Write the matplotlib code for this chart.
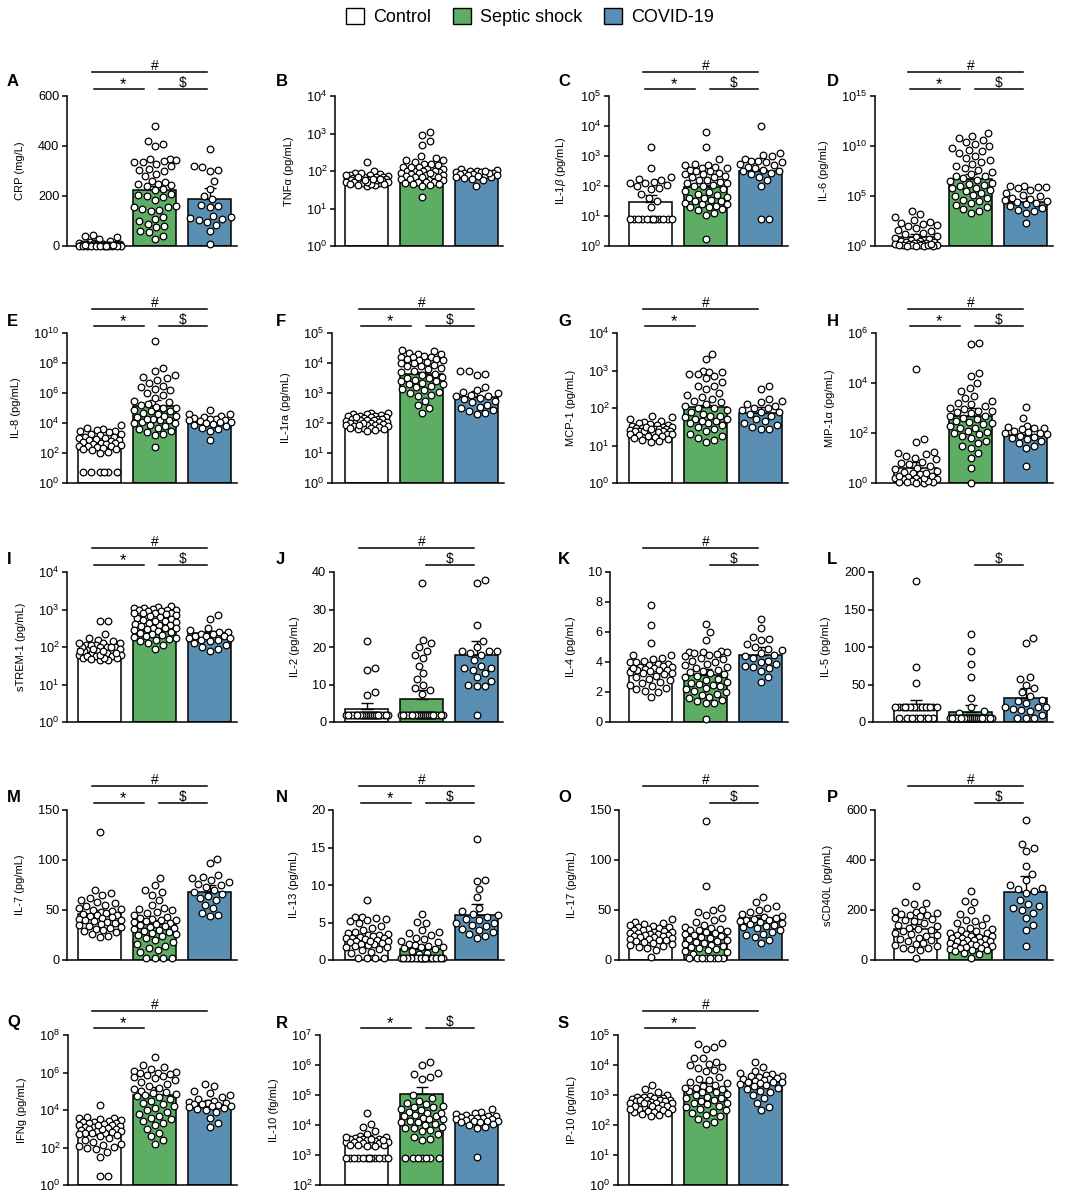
import numpy as np
import matplotlib
matplotlib.use('Agg')
import matplotlib.pyplot as plt
from matplotlib.patches import Patch
from matplotlib.ticker import NullLocator

plt.rcParams['font.family'] = ['Liberation Sans', 'DejaVu Sans']
plt.rcParams['mathtext.fontset'] = 'custom'
plt.rcParams['mathtext.rm'] = 'Liberation Sans'
plt.rcParams['mathtext.it'] = 'Liberation Sans:italic'
plt.rcParams['mathtext.bf'] = 'Liberation Sans:bold'

groups = ['Control', 'Septic shock', 'COVID-19']
colors = ['white', '#5DAD64', '#5A8FB3']

# ---- values (log panels keep log10 values) ----
# A  CRP (mg/L)
crp_ctrl = [45, 40, 35, 28, 20, 15, 14, 12, 10, 10, 9, 8, 8, 7, 6, 6, 5, 5, 5, 4, 4, 4, 3, 3, 3, 3, 2, 2, 2, 2,
            1, 1, 1, 1, 1, 0, 0, 6, 3, 2]
crp_sep = [482, 420, 410, 400, 350, 348, 345, 340, 338, 335, 330, 320, 310, 305, 300, 290, 280, 260, 255, 250,
           248, 245, 240, 230, 225, 210, 205, 200, 195, 185, 160, 158, 155, 150, 145, 140, 115, 110, 100, 90,
           80, 75, 60, 55, 40, 30]
crp_cov = [390, 320, 318, 305, 300, 260, 230, 200, 188, 165, 160, 155, 120, 115, 112, 108, 105, 95, 85, 60, 10]
crp_mean = [7, 226, 187]
crp_top = [10, 240, 233]

# B  TNFa (log10 pg/mL)
tnf_ctrl = [2.25, 2.0, 1.95, 1.92, 1.9, 1.9, 1.88, 1.85, 1.85, 1.82, 1.8, 1.8, 1.8, 1.78, 1.78, 1.75, 1.75, 1.75,
            1.72, 1.72, 1.7, 1.7, 1.7, 1.68, 1.68, 1.65, 1.65, 1.62, 1.62, 1.6, 1.65, 1.7, 1.75, 1.8, 1.85, 1.9,
            1.95, 1.85, 1.8, 1.75]
tnf_sep = [3.05, 2.95, 2.8, 2.7, 2.4, 2.35, 2.3, 2.3, 2.25, 2.2, 2.2, 2.15, 2.1, 2.1, 2.05, 2.05, 2.0, 2.0, 2.0,
           1.98, 1.95, 1.95, 1.92, 1.9, 1.9, 1.88, 1.85, 1.85, 1.8, 1.8, 1.78, 1.75, 1.72, 1.7, 1.7, 1.68, 1.65,
           1.65, 1.62, 1.6, 1.3, 2.0, 1.9, 2.1, 1.95, 1.85]
tnf_cov = [2.05, 2.02, 2.0, 2.0, 1.98, 1.97, 1.95, 1.95, 1.93, 1.92, 1.9, 1.9, 1.9, 1.88, 1.85, 1.85, 1.82, 1.8,
           1.75, 1.6, 1.95, 2.0]
tnf_mean = [1.78, 1.96, 1.93]
tnf_top = [1.8, 2.02, 1.95]

# C  IL-1b (log10 pg/mL)
il1b_ctrl = [3.3, 2.6, 2.3, 2.25, 2.2, 2.15, 2.1, 2.1, 2.05, 2.0, 1.95, 1.9, 1.75, 1.6, 1.5, 1.3] + [0.9] * 12
il1b_sep = [3.8, 3.3, 2.9, 2.75, 2.7, 2.7, 2.65, 2.6, 2.6, 2.55, 2.5, 2.5, 2.45, 2.4, 2.35, 2.3, 2.3, 2.2, 2.2,
            2.15, 2.1, 2.05, 2.0, 2.0, 1.9, 1.85, 1.8, 1.75, 1.7, 1.65, 1.6, 1.55, 1.5, 1.45, 1.4, 1.4, 1.35, 1.3,
            1.3, 1.25, 1.2, 1.1, 1.05, 0.25, 1.5, 1.6, 2.1, 2.4]
il1b_cov = [4.0, 3.1, 3.05, 3.0, 2.9, 2.85, 2.85, 2.8, 2.8, 2.75, 2.7, 2.65, 2.6, 2.55, 2.5, 2.5, 2.45, 2.4, 2.3,
            2.2, 2.0, 0.9, 0.9]
il1b_mean = [1.47, 1.97, 2.5]
il1b_top = [1.7, 2.05, 2.58]

# D  IL-6 (log10 pg/mL)
il6_ctrl = [3.5, 3.2, 2.9, 2.6, 2.4, 2.3, 2.2, 2.1, 2.0, 1.8, 1.6, 1.5, 1.3, 1.2, 1.0, 0.9, 0.8, 0.7, 0.6, 0.5,
            0.5, 0.4, 0.4, 0.3, 0.3, 0.3, 0.2, 0.2, 0.2, 0.15, 0.15, 0.1, 0.1, 0.1, 0.05, 0.05, 0.05, 0.05, 0.1, 0.2]
il6_sep = [11.3, 11.0, 10.8, 10.6, 10.4, 10.2, 10.0, 9.8, 9.6, 9.5, 9.3, 9.0, 8.8, 8.6, 8.4, 8.2, 8.0, 7.8, 7.6,
           7.4, 7.2, 7.0, 6.8, 6.6, 6.5, 6.3, 6.1, 6.0, 5.8, 5.6, 5.5, 5.3, 5.1, 5.0, 4.8, 4.6, 4.5, 4.3, 4.1,
           3.9, 3.7, 3.5, 3.3, 6.2, 7.0, 5.8]
il6_cov = [6.0, 6.0, 5.9, 5.9, 5.8, 5.6, 5.3, 5.1, 5.0, 4.8, 4.7, 4.5, 4.4, 4.3, 4.2, 4.0, 3.8, 3.6, 3.5, 3.3,
           2.3, 4.6]
il6_mean = [0.86, 6.75, 4.39]
il6_top = [1.16, 7.25, 4.92]

# E  IL-8 (log10 pg/mL)
il8_ctrl = [3.85, 3.7, 3.6, 3.55, 3.5, 3.45, 3.4, 3.3, 3.3, 3.2, 3.1, 3.05, 3.0, 3.0, 2.95, 2.9, 2.85, 2.8, 2.75,
            2.7, 2.65, 2.6, 2.6, 2.55, 2.5, 2.5, 2.45, 2.4, 2.35, 2.3, 2.25, 2.2, 2.1, 2.0] + [0.75] * 6
il8_sep = [9.5, 7.7, 7.5, 7.2, 7.1, 7.0, 6.9, 6.7, 6.5, 6.4, 6.3, 6.2, 6.0, 5.9, 5.7, 5.5, 5.4, 5.3, 5.2, 5.1,
           5.0, 4.9, 4.8, 4.7, 4.6, 4.5, 4.4, 4.3, 4.2, 4.2, 4.1, 4.0, 4.0, 3.9, 3.8, 3.7, 3.6, 3.5, 3.4, 3.3,
           3.2, 2.4, 4.3, 4.5, 4.8, 5.0]
il8_cov = [4.9, 4.6, 4.6, 4.45, 4.4, 4.35, 4.3, 4.3, 4.2, 4.2, 4.15, 4.1, 4.05, 4.0, 3.95, 3.9, 3.8, 3.7, 3.6,
           3.5, 2.85]
il8_mean = [2.33, 5.11, 4.0]
il8_top = [2.67, 5.56, 4.22]

# F  IL-1ra (log10 pg/mL)
il1ra_ctrl = [2.35, 2.33, 2.3, 2.3, 2.28, 2.25, 2.25, 2.22, 2.2, 2.2, 2.18, 2.15, 2.15, 2.12, 2.1, 2.1, 2.08,
              2.05, 2.05, 2.02, 2.0, 2.0, 1.98, 1.95, 1.95, 1.92, 1.9, 1.9, 1.88, 1.85, 1.85, 1.82, 1.8, 1.8,
              1.78, 1.75, 2.1, 2.0, 1.95, 2.2]
il1ra_sep = [4.45, 4.4, 4.35, 4.3, 4.3, 4.25, 4.2, 4.2, 4.2, 4.15, 4.15, 4.1, 4.1, 4.05, 4.0, 4.0, 3.95, 3.9,
             3.9, 3.85, 3.8, 3.75, 3.7, 3.65, 3.6, 3.55, 3.5, 3.5, 3.45, 3.4, 3.4, 3.35, 3.3, 3.3, 3.25, 3.2,
             3.15, 3.1, 3.05, 3.0, 2.95, 2.9, 2.75, 2.6, 2.5, 2.35]
il1ra_cov = [3.72, 3.72, 3.65, 3.6, 3.2, 3.1, 3.05, 3.0, 2.95, 2.9, 2.9, 2.85, 2.8, 2.75, 2.7, 2.6, 2.55, 2.5,
             2.45, 2.4, 2.35, 2.3]
il1ra_mean = [2.0, 3.63, 2.87]
il1ra_top = [2.05, 3.7, 3.08]

# G  MCP-1 (log10 pg/mL)
mcp_ctrl = [1.8, 1.75, 1.7, 1.65, 1.62, 1.6, 1.58, 1.55, 1.55, 1.52, 1.5, 1.5, 1.48, 1.48, 1.45, 1.45, 1.45,
            1.42, 1.42, 1.4, 1.4, 1.4, 1.38, 1.38, 1.35, 1.35, 1.32, 1.3, 1.3, 1.28, 1.25, 1.25, 1.22, 1.2, 1.18,
            1.15, 1.12, 1.1, 1.5, 1.45]
mcp_sep = [3.45, 3.3, 3.0, 2.95, 2.95, 2.9, 2.9, 2.85, 2.8, 2.7, 2.6, 2.5, 2.4, 2.35, 2.3, 2.25, 2.2, 2.15, 2.1,
           2.05, 2.0, 2.0, 1.95, 1.9, 1.85, 1.8, 1.75, 1.7, 1.7, 1.65, 1.6, 1.6, 1.55, 1.5, 1.45, 1.4, 1.3, 1.25,
           1.2, 1.15, 1.1, 2.6, 1.65, 1.8]
mcp_cov = [2.58, 2.5, 2.25, 2.2, 2.15, 2.1, 2.05, 2.0, 2.0, 1.95, 1.9, 1.9, 1.85, 1.8, 1.7, 1.65, 1.6, 1.55, 1.5,
           1.45, 1.45]
mcp_mean = [1.45, 2.04, 1.88]
mcp_top = [1.5, 2.09, 2.04]

# H  MIP-1a (log10 pg/mL)
mip_ctrl = [4.55, 1.75, 1.65, 1.25, 1.2, 1.15, 1.1, 1.0, 0.95, 0.85, 0.8, 0.75, 0.7, 0.6, 0.55, 0.5, 0.45, 0.4,
            0.35, 0.3, 0.25, 0.2, 0.2, 0.15, 0.15, 0.1, 0.1, 0.05, 0.05, 0.0, 0.0, 0.05, 0.1, 0.2, 0.3, 0.4]
mip_sep = [5.6, 5.55, 4.4, 4.3, 4.0, 3.8, 3.7, 3.5, 3.4, 3.3, 3.2, 3.15, 3.1, 3.0, 2.95, 2.9, 2.85, 2.8, 2.7,
           2.6, 2.55, 2.5, 2.45, 2.4, 2.35, 2.3, 2.2, 2.1, 2.05, 2.0, 1.95, 1.9, 1.8, 1.7, 1.6, 1.5, 1.4, 1.2,
           1.0, 0.6, 0.0, 2.9, 2.7, 2.2]
mip_cov = [3.05, 2.6, 2.3, 2.25, 2.2, 2.2, 2.15, 2.1, 2.05, 2.0, 2.0, 1.95, 1.9, 1.85, 1.8, 1.75, 1.7, 1.6, 1.5,
           1.4, 0.7]
mip_mean = [0.6, 2.69, 1.93]
mip_top = [0.83, 3.0, 2.27]

# I  sTREM-1 (log10 pg/mL)
trem_ctrl = [2.7, 2.7, 2.35, 2.25, 2.2, 2.15, 2.1, 2.1, 2.05, 2.05, 2.0, 2.0, 2.0, 1.95, 1.95, 1.9, 1.9, 1.9,
             1.85, 1.85, 1.8, 1.8, 1.75, 1.75, 1.7, 1.7, 1.65, 1.65, 1.7, 1.8, 1.9, 2.0, 2.05, 2.1, 2.0, 1.95,
             1.85, 1.75, 1.68, 1.9]
trem_sep = [3.1, 3.08, 3.05, 3.05, 3.02, 3.0, 3.0, 2.98, 2.95, 2.95, 2.92, 2.9, 2.9, 2.88, 2.85, 2.82, 2.8, 2.78,
            2.75, 2.72, 2.7, 2.68, 2.65, 2.62, 2.6, 2.58, 2.55, 2.52, 2.5, 2.48, 2.45, 2.42, 2.4, 2.38, 2.35,
            2.32, 2.3, 2.28, 2.25, 2.22, 2.2, 2.15, 2.1, 2.05, 1.95, 2.5, 2.7, 2.9]
trem_cov = [2.85, 2.75, 2.5, 2.45, 2.4, 2.4, 2.35, 2.35, 2.3, 2.3, 2.3, 2.25, 2.25, 2.2, 2.2, 2.15, 2.1, 2.05,
            2.0, 1.95, 1.9]
trem_mean = [1.96, 2.43, 2.37]
trem_top = [2.02, 2.61, 2.42]

# J  IL-2 (pg/mL)
il2_ctrl = [21.7, 14.5, 14, 8, 7.3] + [1.8] * 32
il2_sep = [37, 22, 21, 20, 19, 18, 17, 15, 13, 11.5, 10, 9, 8.5, 7.5] + [1.8] * 32
il2_cov = [37.8, 37, 26, 21.5, 20, 19, 19, 19, 18.5, 18, 16.5, 15, 14.5, 14.5, 14, 13, 12, 11, 10, 9.5, 9.5, 1.8]
il2_mean = [3.56, 6.1, 18.0]
il2_top = [5.1, 8.6, 21.5]

# K  IL-4 (pg/mL)
il4_ctrl = [7.8, 6.5, 5.25, 4.5, 4.45, 4.3, 4.2, 4.1, 4.0, 4.0, 3.9, 3.85, 3.8, 3.75, 3.7, 3.65, 3.6, 3.55, 3.5,
            3.5, 3.45, 3.4, 3.35, 3.3, 3.25, 3.2, 3.1, 3.0, 2.9, 2.8, 2.7, 2.6, 2.5, 2.4, 2.3, 2.2, 2.1, 2.0, 1.7,
            3.6]
il4_sep = [6.55, 6.0, 5.5, 4.75, 4.7, 4.7, 4.65, 4.6, 4.55, 4.5, 4.4, 4.3, 4.2, 4.1, 4.0, 3.9, 3.8, 3.7, 3.6,
           3.5, 3.4, 3.3, 3.2, 3.1, 3.0, 2.9, 2.8, 2.7, 2.6, 2.55, 2.5, 2.4, 2.3, 2.2, 2.1, 2.0, 1.9, 1.8, 1.7,
           1.6, 1.5, 1.4, 1.3, 1.25, 0.2, 3.35]
il4_cov = [6.85, 6.25, 5.7, 5.55, 5.5, 5.2, 5.0, 4.9, 4.8, 4.6, 4.5, 4.4, 4.3, 4.0, 3.9, 3.75, 3.7, 3.6, 3.4, 3.0,
           2.65, 4.1]
il4_mean = [3.6, 3.15, 4.49]
il4_top = [3.82, 3.55, 4.98]

# L  IL-5 (pg/mL)
il5_ctrl = [188, 73, 52] + [20] * 18 + [6] * 8
il5_sep = [117, 95, 77, 60, 32, 20, 15, 12] + [5] * 32
il5_cov = [112, 105, 60, 58, 50, 45, 40, 35, 30, 28, 25, 20, 20, 20, 18, 16, 15, 10, 5, 5, 5]
il5_mean = [20, 14, 32.5]
il5_top = [29, 23, 46]

# M  IL-7 (pg/mL)
il7_ctrl = [128, 70, 67, 65, 62, 60, 58, 57, 55, 54, 52, 51, 50, 49, 48, 47, 46, 45, 45, 44, 43, 42, 41, 40, 40,
            39, 38, 37, 36, 35, 34, 33, 32, 31, 30, 29, 28, 26, 24, 23]
il7_sep = [82, 75, 70, 68, 65, 60, 55, 52, 51, 50, 48, 47, 45, 43, 42, 41, 40, 40, 39, 38, 37, 36, 35, 34, 33,
           32, 31, 30, 29, 28, 27, 26, 25, 24, 22, 20, 18, 16, 14, 12, 10, 8, 2, 2, 2, 2]
il7_cov = [101, 97, 85, 83, 82, 80, 78, 76, 75, 73, 70, 68, 66, 64, 62, 60, 55, 52, 47, 45, 44]
il7_mean = [46.5, 35.8, 68.2]
il7_top = [50.5, 39.8, 75.3]

# N  IL-13 (pg/mL)
il13_ctrl = [8.0, 5.8, 5.7, 5.6, 5.5, 5.3, 5.2, 5.0, 4.6, 4.3, 4.0, 3.8, 3.6, 3.5, 3.4, 3.3, 3.2, 3.1, 3.0, 3.0,
             2.9, 2.8, 2.7, 2.6, 2.5, 2.4, 2.3, 2.2, 2.1, 2.0, 1.9, 1.8, 1.7, 1.5, 1.3, 1.1, 0.9, 0.3, 0.3, 0.3,
             0.3, 2.6]
il13_sep = [6.2, 5.1, 5.0, 4.0, 3.8, 3.6, 3.4, 3.0, 2.8, 2.6, 2.4, 2.2, 2.0, 1.9, 1.8, 1.7, 1.6, 1.5, 1.2, 1.0,
            0.8] + [0.3] * 24
il13_cov = [16.2, 10.7, 10.6, 9.5, 8.4, 7.0, 6.5, 6.1, 6.0, 5.8, 5.5, 5.3, 5.0, 5.0, 4.7, 4.5, 4.2, 4.0, 3.8,
            3.5, 3.2, 2.9]
il13_mean = [2.95, 1.47, 6.0]
il13_top = [3.25, 2.0, 7.42]

# O  IL-17 (pg/mL)
il17_ctrl = [41, 38, 37, 36, 35, 34, 33, 33, 32, 31, 30, 30, 29, 28, 28, 27, 27, 26, 26, 25, 25, 24, 24, 23, 23,
             22, 21, 21, 20, 20, 19, 18, 17, 16, 15, 14, 13, 12, 10, 3]
il17_sep = [139, 74, 52, 50, 48, 45, 42, 40, 38, 35, 33, 32, 31, 30, 30, 29, 28, 27, 26, 25, 24, 23, 22, 21, 20,
            19, 18, 17, 16, 15, 14, 13, 12, 11, 10, 9, 8, 6, 2, 2, 2, 2, 2, 2, 2, 2]
il17_cov = [63, 58, 54, 52, 50, 48, 46, 44, 43, 42, 41, 40, 40, 39, 38, 37, 36, 35, 34, 33, 32, 30, 28, 26, 25,
            23, 20, 17]
il17_mean = [24.7, 25.8, 42]
il17_top = [25.5, 27.8, 45]

# P  sCD40L (pg/mL)
cd40_ctrl = [298, 232, 230, 225, 200, 195, 192, 190, 185, 182, 180, 175, 170, 165, 160, 155, 150, 140, 135, 130,
             125, 120, 115, 110, 105, 100, 95, 90, 85, 80, 75, 70, 65, 60, 55, 50, 50, 45, 40, 10]
cd40_sep = [278, 235, 232, 200, 185, 170, 160, 155, 150, 140, 130, 125, 120, 115, 110, 108, 105, 100, 98, 95, 92,
            90, 88, 85, 82, 80, 78, 75, 72, 70, 68, 65, 62, 60, 58, 55, 52, 50, 48, 45, 42, 40, 35, 30, 25, 10]
cd40_cov = [560, 465, 450, 435, 375, 345, 320, 300, 290, 285, 275, 270, 240, 225, 215, 210, 200, 190, 170, 140,
            120, 55]
cd40_mean = [123, 96, 274]
cd40_top = [143, 107, 337]

# Q  IFNg (log10 pg/mL)
ifng_ctrl = [4.25, 3.65, 3.6, 3.55, 3.5, 3.45, 3.4, 3.38, 3.35, 3.3, 3.3, 3.25, 3.2, 3.2, 3.15, 3.1, 3.1, 3.05,
             3.0, 3.0, 2.95, 2.9, 2.9, 2.85, 2.8, 2.8, 2.75, 2.7, 2.65, 2.6, 2.5, 2.4, 2.3, 2.2, 2.15, 2.1, 2.05,
             2.0, 1.9, 1.75, 1.5, 0.5, 0.5, 3.0, 3.2]
ifng_sep = [6.85, 6.4, 6.3, 6.2, 6.1, 6.05, 6.0, 5.95, 5.9, 5.85, 5.8, 5.75, 5.7, 5.6, 5.5, 5.4, 5.3, 5.2, 5.1,
            5.0, 4.9, 4.85, 4.8, 4.75, 4.7, 4.6, 4.5, 4.4, 4.3, 4.2, 4.1, 4.0, 3.9, 3.8, 3.7, 3.6, 3.5, 3.4, 3.3,
            3.2, 3.0, 2.8, 2.6, 2.4, 2.2, 4.95]
ifng_cov = [5.4, 5.3, 5.0, 4.9, 4.8, 4.7, 4.6, 4.5, 4.45, 4.4, 4.35, 4.3, 4.3, 4.25, 4.2, 4.2, 4.15, 4.1, 4.05,
            4.0, 3.9, 3.6, 3.3, 3.1]
ifng_mean = [2.65, 4.81, 4.25]
ifng_top = [2.74, 5.22, 4.53]

# R  IL-10 (log10 fg/mL)
il10_ctrl = [4.4, 4.05, 3.95, 3.8, 3.7, 3.65, 3.6, 3.58, 3.55, 3.55, 3.52, 3.5, 3.5, 3.48, 3.45, 3.45, 3.42, 3.4,
             3.4, 3.38, 3.35, 3.35, 3.32, 3.3, 3.3, 3.5, 3.55, 3.6] + [2.9] * 12
il10_sep = [6.1, 6.0, 5.75, 5.7, 5.6, 5.55, 5.0, 4.9, 4.8, 4.75, 4.7, 4.65, 4.6, 4.55, 4.5, 4.45, 4.4, 4.35, 4.3,
            4.3, 4.25, 4.2, 4.2, 4.15, 4.1, 4.05, 4.0, 3.95, 3.9, 3.85, 3.8, 3.7, 3.6, 3.55, 3.5, 4.6, 4.4, 4.1,
            3.9] + [2.9] * 7
il10_cov = [4.55, 4.45, 4.4, 4.38, 4.35, 4.3, 4.3, 4.28, 4.25, 4.25, 4.22, 4.2, 4.2, 4.18, 4.15, 4.15, 4.12, 4.1,
            4.1, 4.05, 4.0, 3.95, 3.9, 2.95]
il10_mean = [3.45, 5.04, 4.19]
il10_top = [3.67, 5.27, 4.28]

# S  IP-10 (log10 pg/mL)
ip10_ctrl = [3.35, 3.2, 3.1, 3.0, 2.98, 2.95, 2.92, 2.9, 2.9, 2.88, 2.85, 2.85, 2.82, 2.8, 2.8, 2.78, 2.75, 2.75,
             2.72, 2.7, 2.7, 2.68, 2.65, 2.62, 2.6, 2.58, 2.55, 2.52, 2.5, 2.48, 2.45, 2.42, 2.4, 2.38, 2.35, 2.3,
             2.85, 2.75, 2.65, 2.55]
ip10_sep = [4.75, 4.7, 4.6, 4.55, 4.25, 4.25, 4.1, 4.05, 4.0, 3.95, 3.9, 3.85, 3.8, 3.6, 3.55, 3.5, 3.45, 3.4,
            3.35, 3.3, 3.25, 3.2, 3.2, 3.15, 3.1, 3.05, 3.0, 2.95, 2.9, 2.85, 2.8, 2.75, 2.75, 2.7, 2.65, 2.6,
            2.55, 2.5, 2.45, 2.4, 2.35, 2.3, 2.2, 2.1, 2.05, 2.9, 3.1, 3.25]
ip10_cov = [4.1, 3.95, 3.8, 3.75, 3.7, 3.68, 3.65, 3.62, 3.6, 3.58, 3.55, 3.52, 3.5, 3.48, 3.45, 3.45, 3.42, 3.4,
            3.38, 3.35, 3.3, 3.25, 3.2, 3.15, 3.1, 3.0, 2.9, 2.75, 2.6, 2.5]
ip10_mean = [2.71, 3.17, 3.45]
ip10_top = [2.77, 3.43, 3.53]

# letter, y label, scale, y range, ticks, control, septic, covid, means, error tops, brackets, spine x (px)
panels = [
    ('A', 'CRP (mg/L)', 'lin', (0, 600), [0, 200, 400, 600], crp_ctrl, crp_sep, crp_cov, crp_mean, crp_top, '#*$', 67),
    ('B', 'TNFα (pg/mL)', 'log', (0, 4), [0, 1, 2, 3, 4], tnf_ctrl, tnf_sep, tnf_cov, tnf_mean, tnf_top, '', 335),
    ('C', 'IL-1$\\it{\\beta}$ (pg/mL)', 'log', (0, 5), [0, 1, 2, 3, 4, 5], il1b_ctrl, il1b_sep, il1b_cov,
     il1b_mean, il1b_top, '#*$', 609),
    ('D', 'IL-6 (pg/mL)', 'log', (0, 15), [0, 5, 10, 15], il6_ctrl, il6_sep, il6_cov, il6_mean, il6_top, '#*$', 875),
    ('E', 'IL-8 (pg/mL)', 'log', (0, 10), [0, 2, 4, 6, 8, 10], il8_ctrl, il8_sep, il8_cov, il8_mean, il8_top,
     '#*$', 67),
    ('F', 'IL-1ra (pg/mL)', 'log', (0, 5), [0, 1, 2, 3, 4, 5], il1ra_ctrl, il1ra_sep, il1ra_cov, il1ra_mean,
     il1ra_top, '#*$', 332),
    ('G', 'MCP-1 (pg/mL)', 'log', (0, 4), [0, 1, 2, 3, 4], mcp_ctrl, mcp_sep, mcp_cov, mcp_mean, mcp_top, '#*', 617),
    ('H', 'MIP-1α (pg/mL)', 'log', (0, 6), [0, 2, 4, 6], mip_ctrl, mip_sep, mip_cov, mip_mean, mip_top, '#*$', 876),
    ('I', 'sTREM-1 (pg/mL)', 'log', (0, 4), [0, 1, 2, 3, 4], trem_ctrl, trem_sep, trem_cov, trem_mean, trem_top,
     '#*$', 67),
    ('J', 'IL-2 (pg/mL)', 'lin', (0, 40), [0, 10, 20, 30, 40], il2_ctrl, il2_sep, il2_cov, il2_mean, il2_top,
     '#$', 334),
    ('K', 'IL-4 (pg/mL)', 'lin', (0, 10), [0, 2, 4, 6, 8, 10], il4_ctrl, il4_sep, il4_cov, il4_mean, il4_top,
     '#$', 610),
    ('L', 'IL-5 (pg/mL)', 'lin', (0, 200), [0, 50, 100, 150, 200], il5_ctrl, il5_sep, il5_cov, il5_mean, il5_top,
     '$', 873),
    ('M', 'IL-7 (pg/mL)', 'lin', (0, 150), [0, 50, 100, 150], il7_ctrl, il7_sep, il7_cov, il7_mean, il7_top,
     '#*$', 67),
    ('N', 'IL-13 (pg/mL)', 'lin', (0, 20), [0, 5, 10, 15, 20], il13_ctrl, il13_sep, il13_cov, il13_mean, il13_top,
     '#*$', 333),
    ('O', 'IL-17 (pg/mL)', 'lin', (0, 150), [0, 50, 100, 150], il17_ctrl, il17_sep, il17_cov, il17_mean, il17_top,
     '#$', 619),
    ('P', 'sCD40L (pg/mL)', 'lin', (0, 600), [0, 200, 400, 600], cd40_ctrl, cd40_sep, cd40_cov, cd40_mean,
     cd40_top, '#$', 875),
    ('Q', 'IFNg (pg/mL)', 'log', (0, 8), [0, 2, 4, 6, 8], ifng_ctrl, ifng_sep, ifng_cov, ifng_mean, ifng_top,
     '#*', 68),
    ('R', 'IL-10 (fg/mL)', 'log', (2, 7), [2, 3, 4, 5, 6, 7], il10_ctrl, il10_sep, il10_cov, il10_mean, il10_top,
     '*$', 320),
    ('S', 'IP-10 (pg/mL)', 'log', (0, 5), [0, 1, 2, 3, 4, 5], ip10_ctrl, ip10_sep, ip10_cov, ip10_mean, ip10_top,
     '#*', 618),
]

# ---- layout in pixels ----
W, H = 1084, 1196
col_center = [99.5, 366.5, 650.5, 915.5]   # centre of the first bar in each column
row_top = [96, 333, 572, 810, 1035]
letter_x = [7, 276, 558, 827]
AXH = 150
STEP = 55.0     # px between bar centres
GAP = 8.6       # centre distance between neighbouring dots, px


def swarm(ypix, d=GAP, maxw=21.0):
    # simple beeswarm in pixel space, points sorted by value
    steps = np.arange(0.5, maxw + 0.01, 0.5)
    cands = np.concatenate([[0.0], np.column_stack([steps, -steps]).ravel()])
    xs = np.zeros(len(ypix))
    px, py = [], []
    for i in np.argsort(ypix, kind='stable'):
        y = ypix[i]
        ax_ = np.array(px)
        ay_ = np.array(py)
        if len(ax_):
            near = np.abs(ay_ - y) < d
            ax_, ay_ = ax_[near], ay_[near]
        if len(ax_) == 0:
            x = 0.0
        else:
            dist = np.hypot(cands[:, None] - ax_[None, :], y - ay_[None, :]).min(axis=1)
            ok = np.nonzero(dist >= d * 0.98)[0]
            x = cands[ok[0]] if len(ok) else cands[np.argmax(dist)]
        xs[i] = x
        px.append(x)
        py.append(y)
    return xs


fig = plt.figure(figsize=(W / 100, H / 100), dpi=100)

for idx, (letter, ylab, scale, lim, ticks, c_vals, s_vals, v_vals, means, tops, sig, spine) in enumerate(panels):
    row, col = divmod(idx, 4)
    c0 = col_center[col]
    top = row_top[row]
    right = c0 + 2 * STEP + 27
    ax = fig.add_axes([spine / W, 1 - (top + AXH) / H, (right - spine) / W, AXH / H])
    ax.set_xlim(-(c0 - spine) / STEP, 2 + 27 / STEP)

    if scale == 'log':
        ax.set_yscale('log')
        conv = lambda a: 10.0 ** np.asarray(a, dtype=float)
        ax.set_ylim(conv(lim[0]), conv(lim[1]))
        ax.set_yticks(conv(ticks), labels=['$\\mathregular{10^{%d}}$' % k for k in ticks])
        ax.yaxis.set_minor_locator(NullLocator())
        base = conv(lim[0])
    else:
        conv = lambda a: np.asarray(a, dtype=float)
        ax.set_ylim(lim)
        ax.set_yticks(ticks)
        base = 0.0

    for g in range(3):
        m = float(conv(means[g]))
        t = float(conv(tops[g]))
        ax.bar(g, m - base, bottom=base, width=0.78, color=colors[g], edgecolor='black',
               linewidth=1.1, zorder=2)
        ax.errorbar(g, m, yerr=[[0], [t - m]], fmt='none', ecolor='black', elinewidth=1.0,
                    capsize=4.3, capthick=1.0, zorder=3)

    for g, vals in enumerate([c_vals, s_vals, v_vals]):
        y = conv(vals)
        ypix = ax.transData.transform(np.column_stack([np.full(len(y), float(g)), y]))[:, 1]
        xo = swarm(ypix)
        ax.scatter(g + xo / STEP, y, s=23, facecolor='white', edgecolor='black', linewidth=0.9,
                   zorder=4, clip_on=False)

    for side in ['top', 'right']:
        ax.spines[side].set_visible(False)
    for side in ['left', 'bottom']:
        ax.spines[side].set_linewidth(1.1)
    ax.tick_params(axis='y', direction='out', length=3.5, width=1.1, labelsize=9.2, pad=2)
    ax.tick_params(axis='x', bottom=False, labelbottom=False)
    ax.set_ylabel(ylab, fontsize=8, labelpad=9)

    # significance brackets
    tr = ax.get_xaxis_transform()
    lo = 1 + 7 / AXH
    hi = 1 + 24 / AXH
    if '#' in sig:
        ax.plot([-0.13, 1.96], [hi, hi], color='black', lw=1.1, transform=tr, clip_on=False)
        ax.text(1.0, hi + 6 / AXH, '#', transform=tr, ha='center', va='center', fontsize=10)
    if '*' in sig:
        ax.plot([-0.1, 0.8], [lo, lo], color='black', lw=1.1, transform=tr, clip_on=False)
        ax.text(0.42, lo + 4 / AXH, '*', transform=tr, ha='center', va='center', fontsize=12)
    if '$' in sig:
        ax.plot([1.08, 1.96], [lo, lo], color='black', lw=1.1, transform=tr, clip_on=False)
        ax.text(1.52, lo + 6 / AXH, '$', transform=tr, ha='center', va='center', fontsize=10)

    dy = 15 if row == 0 else 12
    fig.text(letter_x[col] / W, 1 - (top - dy) / H, letter, fontsize=12, fontweight='bold',
             ha='left', va='center')

handles = [Patch(facecolor=colors[g], edgecolor='black', linewidth=1.0, label=groups[g]) for g in range(3)]
fig.legend(handles=handles, loc='center', bbox_to_anchor=(530 / W, 1 - 17 / H), ncol=3, frameon=False,
           fontsize=13, handlelength=1.0, handleheight=1.0, handletextpad=0.5, columnspacing=1.2)

fig.savefig('out.png', dpi=100)
